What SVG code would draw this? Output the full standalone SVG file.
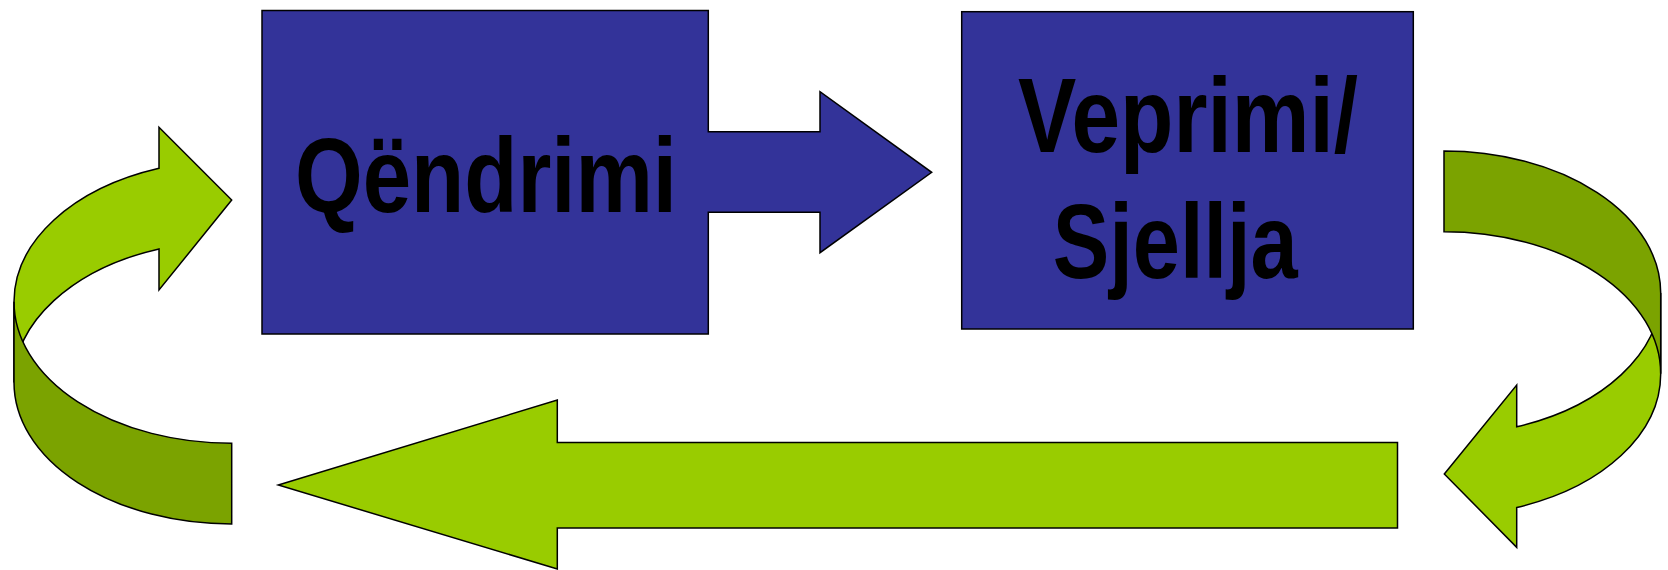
<svg xmlns="http://www.w3.org/2000/svg" width="1668" height="570" viewBox="0 0 1668 570">
<style>
.blue{fill:#333399;stroke:#000;stroke-width:1.5;stroke-linejoin:miter}
.light{fill:#99CC00;stroke:#000;stroke-width:1.5;stroke-linejoin:miter}
.dark{fill:#7BA300;stroke:#000;stroke-width:1.5;stroke-linejoin:miter}
.lbl{font-family:"Liberation Sans",Arial,sans-serif;font-weight:bold;font-size:106px;fill:#000}
</style>
<rect x="0" y="0" width="1668" height="570" fill="#fff"/>
<g id="node-qendrimi">
<path class="blue" d="M262,10.6 L708.3,10.6 L708.3,131.7 L820,131.7 L820,91.7 L931.7,172.3 L820,252.7 L820,212.3 L708.3,212.3 L708.3,334 L262,334 Z"/>
<text class="lbl" x="295" y="211.5" textLength="382" lengthAdjust="spacingAndGlyphs">Qëndrimi</text>
</g>
<g id="node-veprimi">
<rect class="blue" x="961.7" y="11.7" width="451.6" height="317.3"/>
<text class="lbl" x="1018" y="151.7" textLength="340" lengthAdjust="spacingAndGlyphs">Veprimi/</text>
<text class="lbl" x="1052.7" y="278.3" textLength="245" lengthAdjust="spacingAndGlyphs">Sjellja</text>
</g>
<g id="connectors">
<g id="arrow-right-curve">
<path class="light" d="M1660.7,293 A216.7,142 0 0 1 1516.7,426.8 L1516.7,385 L1444.3,474 L1516.7,547.3 L1516.7,507.5 A216.7,142 0 0 0 1660.7,373.7 Z"/>
<path class="dark" d="M1444,151 A216.7,142 0 0 1 1660.7,293 L1660.7,373.7 A216.7,142 0 0 0 1444,231.7 Z"/>
</g>
<g id="arrow-bottom">
<path class="light" d="M278.3,485 L557.3,400 L557.3,442.5 L1397.5,442.5 L1397.5,528 L557.3,528 L557.3,569 Z"/>
</g>
<g id="arrow-left-curve">
<path class="light" d="M159,168.3 A217.7,141.6 0 0 0 14,301.7 L14,382.4 A217.7,141.6 0 0 1 159,248.9 L159,290 L231.7,200 L159,127.3 Z"/>
<path class="dark" d="M14,301.7 A217.7,141.6 0 0 0 231.7,443.3 L231.7,524 A217.7,141.6 0 0 1 14,382.4 Z"/>
</g>
</g>
</svg>
